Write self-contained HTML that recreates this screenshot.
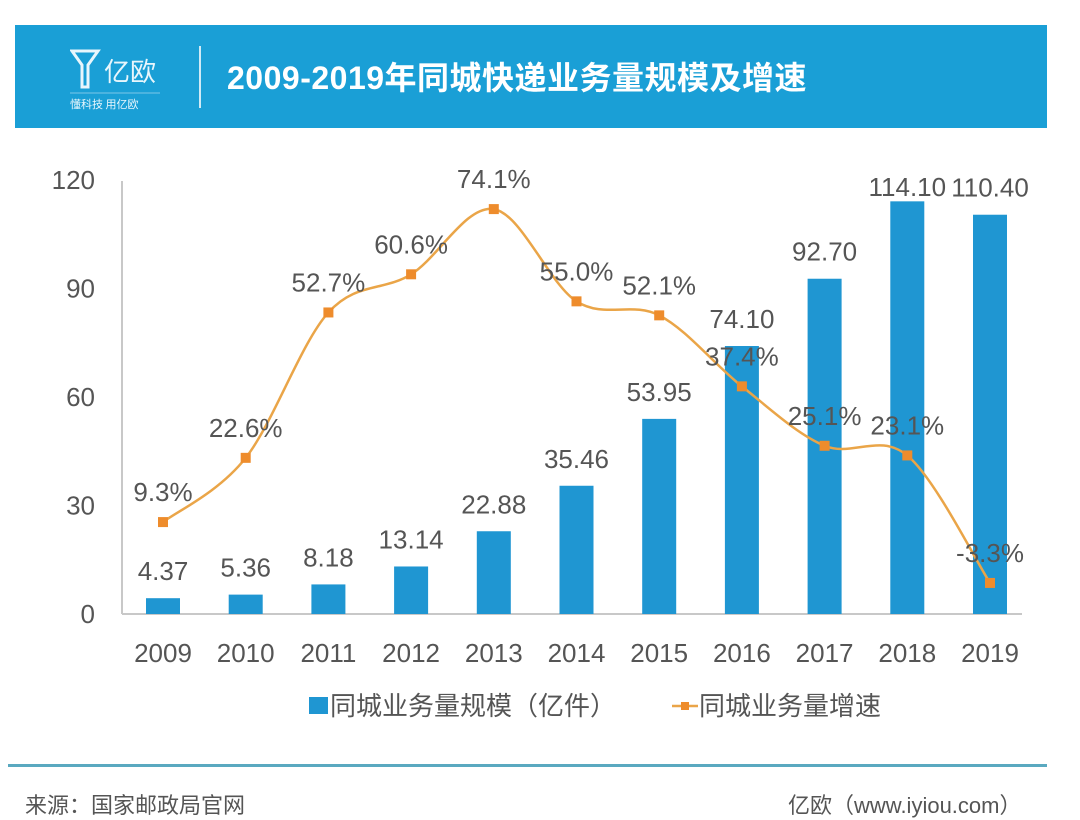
<!DOCTYPE html>
<html><head><meta charset="utf-8">
<style>
body{margin:0;width:1080px;height:807px;background:#fff;overflow:hidden;font-family:"Liberation Sans","Noto Sans CJK SC",sans-serif;}
#hdr{position:absolute;left:15px;top:25px;width:1032px;height:103px;background:#1a9fd6;}
#logo{position:absolute;left:55px;top:18px;color:#e8f6fc;}
#title{position:absolute;left:212px;top:28px;color:#fff;font-size:32px;font-weight:bold;letter-spacing:0.5px;font-family:"Liberation Sans","Noto Sans CJK SC",sans-serif;}
#sep{position:absolute;left:184px;top:21px;width:2px;height:62px;background:#cfeaf6;}
#foot-line{position:absolute;left:8px;top:764px;width:1039px;height:3px;background:#5aa9c0;}
.ft{position:absolute;top:788px;font-size:22px;color:#555;}
</style></head><body>
<div id="hdr">
  <div id="logo">
    <svg width="130" height="70">
      <path d="M2 8 L12 22 L12 44 L18 44 L18 22 L28 8 Z" fill="none" stroke="#e8f6fc" stroke-width="3"/>
      <text x="34" y="38" font-size="26" fill="#e8f6fc" font-family="Noto Sans CJK SC, sans-serif">亿欧</text>
      <line x1="0" y1="50" x2="90" y2="50" stroke="#7cc7e8" stroke-width="1"/>
      <text x="0" y="65" font-size="11" fill="#e8f6fc" font-family="Noto Sans CJK SC, sans-serif">懂科技 用亿欧</text>
    </svg>
  </div>
  <div id="sep"></div>
  <div id="title">2009-2019年同城快递业务量规模及增速</div>
</div>
<svg id="chart" width="1080" height="807" style="position:absolute;left:0;top:0"></svg>
<div id="foot-line"></div>
<div class="ft" style="left:25px">来源：国家邮政局官网</div>
<div class="ft" style="left:788px">亿欧（www.iyiou.com）</div>
<script>
const categories=["2009","2010","2011","2012","2013","2014","2015","2016","2017","2018","2019"];
const volume=[4.37,5.36,8.18,13.14,22.88,35.46,53.95,74.10,92.70,114.10,110.40];
const volumeLabels=["4.37","5.36","8.18","13.14","22.88","35.46","53.95","74.10","92.70","114.10","110.40"];
const growth=[9.3,22.6,52.7,60.6,74.1,55.0,52.1,37.4,25.1,23.1,-3.3];
const growthLabels=["9.3%","22.6%","52.7%","60.6%","74.1%","55.0%","52.1%","37.4%","25.1%","23.1%","-3.3%"];
const yTicks=[0,30,60,90,120];

const NS="http://www.w3.org/2000/svg";
const svg=document.getElementById('chart');
function mk(t,a,p){const e=document.createElementNS(NS,t);for(const k in a)e.setAttribute(k,a[k]);(p||svg).appendChild(e);return e;}
const x=i=>163+i*82.7;
const y=v=>614-v*(434/120);
const y2=g=>567-g*4.83;
const TXT="#555";
let ax=mk('line',{x1:122,y1:181,x2:122,y2:614,stroke:'#c8c8c8','stroke-width':2});


let bx=mk('line',{x1:122,y1:614,x2:1022,y2:614,stroke:'#c8c8c8','stroke-width':2});


yTicks.forEach(t=>{
  const e=mk('text',{x:95,y:y(t)+9,'text-anchor':'end','font-size':26,fill:TXT});
  e.textContent=t;
  
  
});
categories.forEach((c,i)=>{
  const e=mk('text',{x:x(i),y:662,'text-anchor':'middle','font-size':26,fill:TXT});
  e.textContent=c;
  
  
});
volume.forEach((v,i)=>{
  const b=mk('rect',{x:x(i)-17,y:y(v),width:34,height:614-y(v),fill:'#1f96d2'});
  
  
  const ly=Math.max(y(v)-27,187);
  const t=mk('text',{x:x(i),y:ly+9,'text-anchor':'middle','font-size':26,fill:TXT});
  t.textContent=volumeLabels[i];
  
  
});
const pts=growth.map((g,i)=>[x(i),y2(g)]);
let d='M'+pts[0][0]+','+pts[0][1];
for(let i=0;i<pts.length-1;i++){
  const p0=pts[Math.max(i-1,0)],p1=pts[i],p2=pts[i+1],p3=pts[Math.min(i+2,pts.length-1)];
  const c1=[p1[0]+(p2[0]-p0[0])/6,p1[1]+(p2[1]-p0[1])/6];
  const c2=[p2[0]-(p3[0]-p1[0])/6,p2[1]-(p3[1]-p1[1])/6];
  d+=` C${c1[0]},${c1[1]} ${c2[0]},${c2[1]} ${p2[0]},${p2[1]}`;
}
const ln=mk('path',{d:d,fill:'none',stroke:'#eaa548','stroke-width':2.5});


pts.forEach((p,i)=>{
  const m=mk('rect',{x:p[0]-5,y:p[1]-5,width:10,height:10,fill:'#ee8c2c'});
  
  
  const t=mk('text',{x:p[0],y:p[1]-30+9,'text-anchor':'middle','font-size':26,fill:TXT});
  t.textContent=growthLabels[i];
  
  
});
const lg=mk('g',{});


const l1=mk('rect',{x:309,y:697,width:19,height:17,fill:'#1f96d2'},lg);


const t1=mk('text',{x:330,y:715,'font-size':26,fill:TXT},lg);
t1.textContent='同城业务量规模（亿件）';


const l2=mk('line',{x1:672,y1:706,x2:698,y2:706,stroke:'#eaa548','stroke-width':2.5},lg);


const l3=mk('rect',{x:681,y:702,width:8,height:8,fill:'#ee8c2c'},lg);


const t2=mk('text',{x:699,y:715,'font-size':26,fill:TXT},lg);
t2.textContent='同城业务量增速';


</script>
</body></html>
